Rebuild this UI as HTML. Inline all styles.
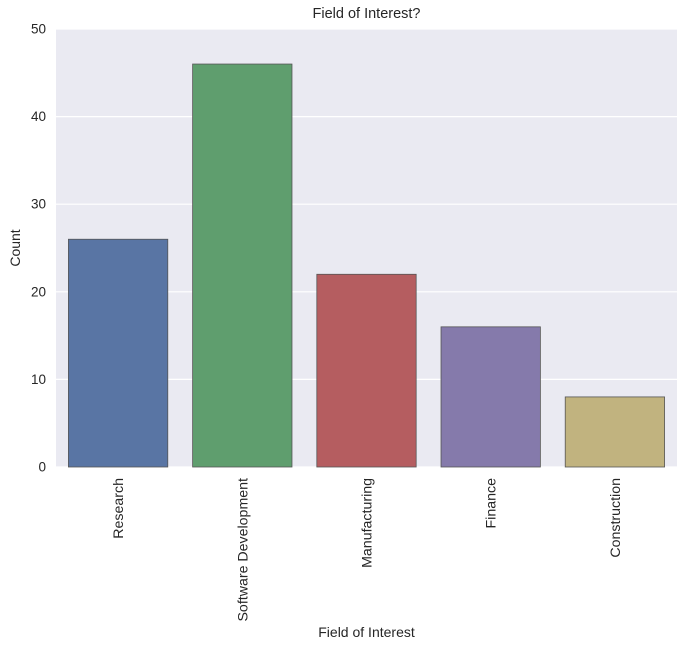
<!DOCTYPE html>
<html><head><meta charset="utf-8"><style>
html,body{margin:0;padding:0;background:#fff;}
svg text{font-family:"Liberation Sans",Arial,sans-serif;fill:#262626;}
</style></head><body>
<svg width="686" height="650" xmlns="http://www.w3.org/2000/svg">
<g id="plot"></g>
</svg>
<script>
const categories=["Research","Software Development","Manufacturing","Finance","Construction"];
const counts=[26,46,22,16,8];
const colors=["#5975a4","#5f9e6e","#b55d60","#857aab","#c1b37f"];
const yTicks=[0,10,20,30,40,50];
const L=56,R=677,T=29,B=467,yMax=50;
const y=v=>B-(v/yMax)*(B-T);
const band=(R-L)/categories.length;
const x=i=>L+band*i+band*0.1;
const NS="http://www.w3.org/2000/svg";
const svg=document.querySelector('svg');
function mk(tag,attrs,parent){const e=document.createElementNS(NS,tag);for(const k in attrs)e.setAttribute(k,attrs[k]);(parent||svg).appendChild(e);return e;}
const bg=mk('rect',{x:L,y:T,width:R-L,height:B-T,fill:"#eaeaf2"});


yTicks.forEach(t=>{
 const g=mk('line',{x1:L,x2:R,y1:y(t),y2:y(t),stroke:"#fff","stroke-width":1.2});
 
 
 const tx=mk('text',{x:L-10,y:y(t)+4.5,"text-anchor":"end","font-size":13.5});
 tx.textContent=t;
 
 
});
categories.forEach((c,i)=>{
 const r=mk('rect',{x:x(i),y:y(counts[i]),width:band*0.8,height:B-y(counts[i]),fill:colors[i],stroke:"#555","stroke-width":0.8});
 
 
 const cx=L+band*(i+0.5);
 const t=mk('text',{x:0,y:0,"text-anchor":"end","font-size":14.2,transform:`translate(${cx+5},${B+11}) rotate(-90)`});
 t.textContent=c;
 
 
});
const title=mk('text',{x:(L+R)/2,y:18,"text-anchor":"middle","font-size":14.5});
title.textContent="Field of Interest?";


const xl=mk('text',{x:(L+R)/2,y:637,"text-anchor":"middle","font-size":14});
xl.textContent="Field of Interest";


const yl=mk('text',{x:0,y:0,"text-anchor":"middle","font-size":14,transform:`translate(20,${(T+B)/2}) rotate(-90)`});
yl.textContent="Count";


</script>
</body></html>
